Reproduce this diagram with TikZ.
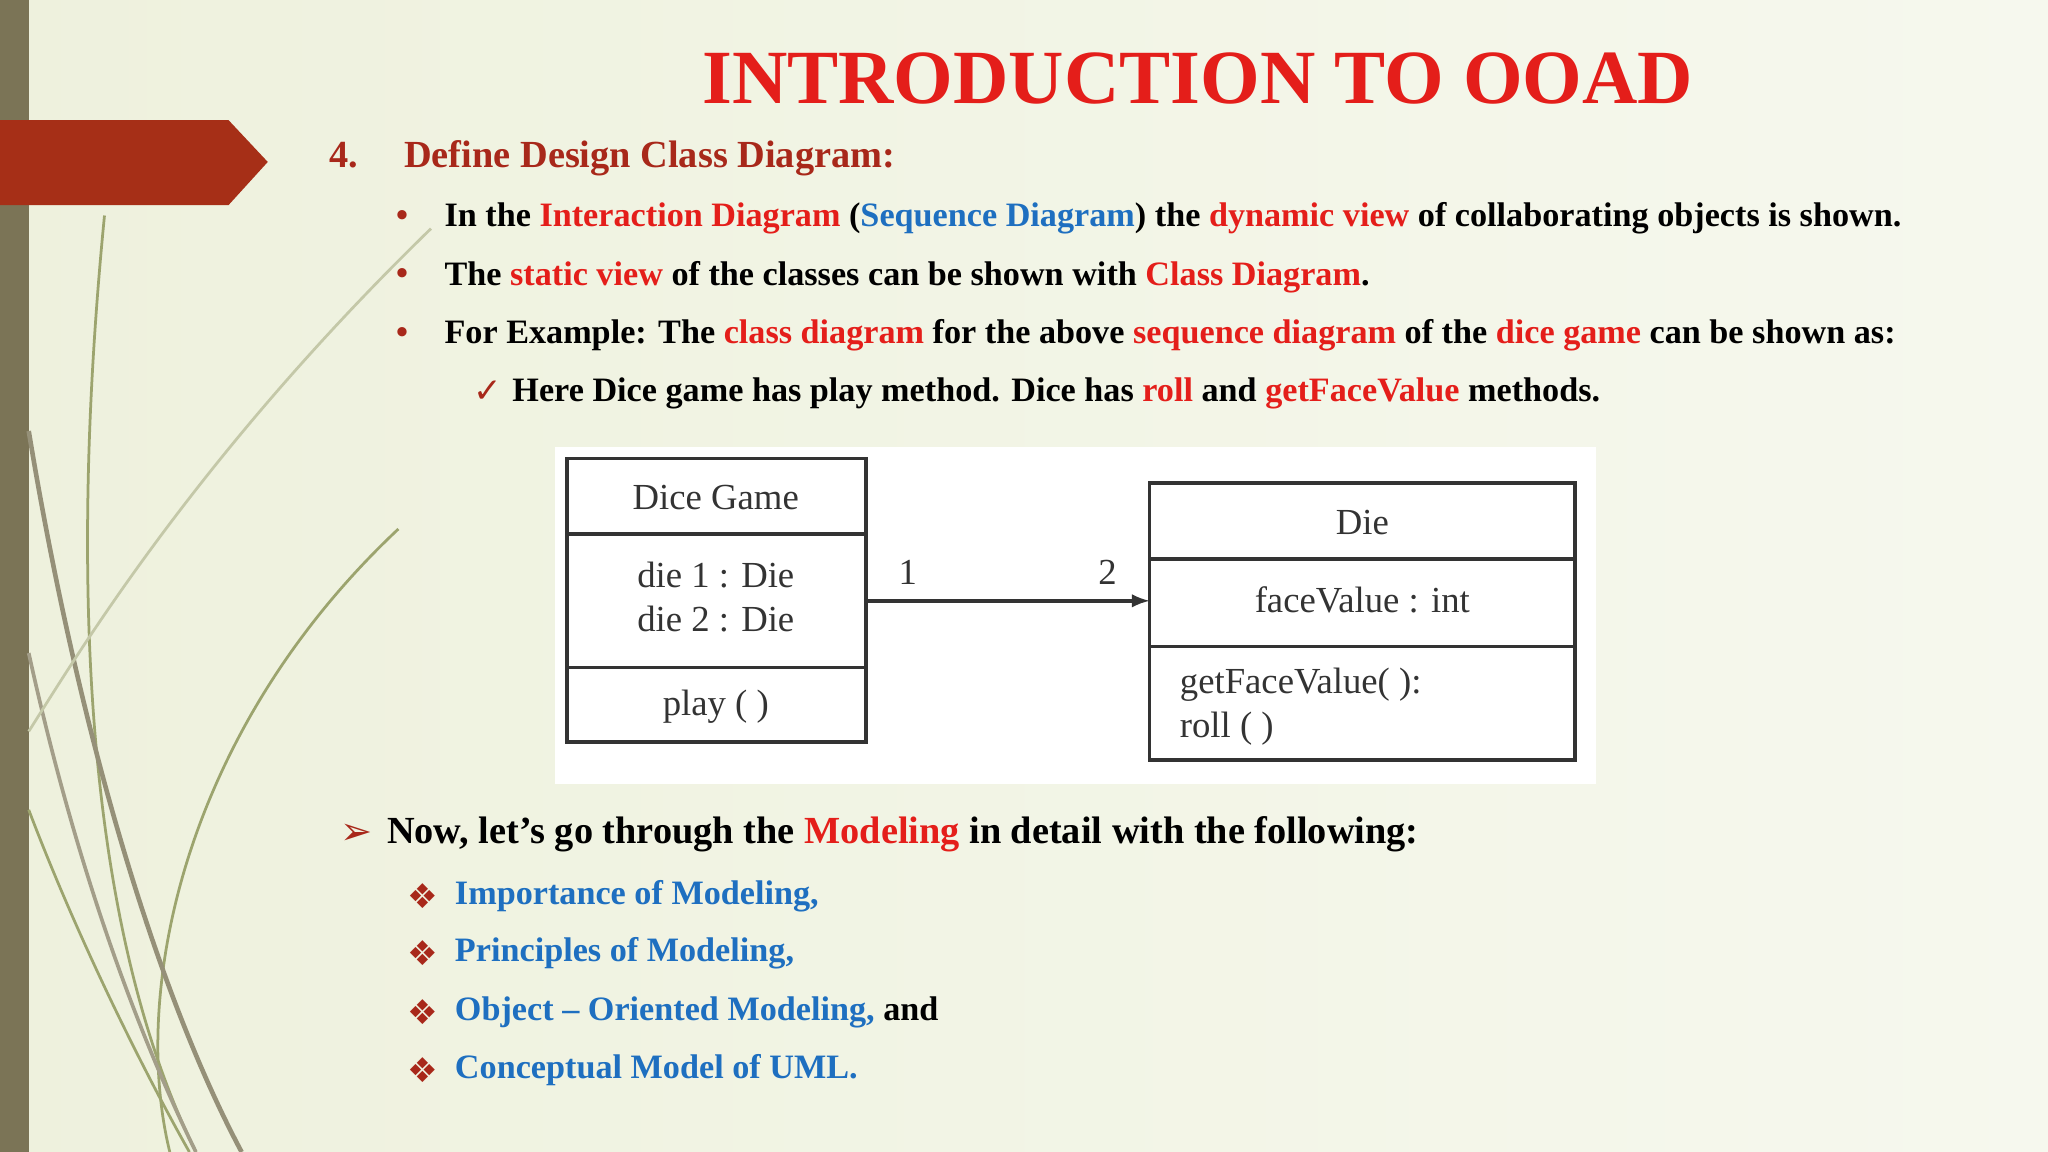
\documentclass[tikz,border=0pt]{standalone}
\usepackage{fontspec}
\setmainfont{Liberation Serif}
\newfontfamily\djvfont{DejaVu Sans}
\definecolor{rd}{HTML}{E41E1A}
\definecolor{bl}{HTML}{1E6FC0}
\definecolor{hd}{HTML}{A8281A}
\definecolor{bgl}{HTML}{EEF1DD}
\definecolor{bgr}{HTML}{F6F8EE}
\definecolor{ol}{HTML}{7B7456}
\definecolor{arr}{HTML}{A62F17}
\definecolor{ln}{HTML}{9CA46E}
\definecolor{dg}{HTML}{333333}
\tikzset{
 txt/.style={anchor=west,inner sep=0,font=\bfseries\fontsize{14.9}{16}\selectfont},
 big/.style={anchor=west,inner sep=0,font=\bfseries\fontsize{16.7}{18}\selectfont},
 cls/.style={draw=dg,line width=1.6pt},
 ct/.style={inner sep=0,text=dg,font=\fontsize{16}{19}\selectfont},
}
\begin{document}
\begin{tikzpicture}[x=0.02cm,y=-0.02cm]
\useasboundingbox (0,0) rectangle (1568,882);
\shade[left color=bgl,right color=bgr] (0,0) rectangle (1568,882);
\fill[ol] (0,0) rectangle (22,882);
% decorative curves
\begin{scope}[ln,line width=1.2pt]
\draw (80,165) .. controls (55,420) and (60,700) .. (150,882);
\draw (305,405) .. controls (140,560) and (100,760) .. (130,882);
\draw[line width=2pt,ol!80] (22,330) .. controls (60,560) and (120,760) .. (185,882);
\draw[line width=1.6pt,ol!70] (22,500) .. controls (55,650) and (100,780) .. (150,882);
\draw (22,620) .. controls (60,720) and (110,820) .. (145,882);
\draw[ln!60] (330,175) .. controls (150,350) and (60,500) .. (22,560);
\end{scope}
\fill[arr] (0,92) -- (175,92) -- (205,124) -- (175,157) -- (0,157) -- cycle;
\node[anchor=center,inner sep=0,text=rd,font=\bfseries\fontsize{33.4}{35}\selectfont] (title) at (917,60) {INTRODUCTION TO OOAD};
\node[big,text=hd] (h) at (252,121) {4.\hspace{1.2em}Define Design Class Diagram:};
\node[txt,text=hd] (b1) at (303,167) {\textbullet};
\node[txt] (t1) at (340,167) {In the \textcolor{rd}{Interaction Diagram} (\textcolor{bl}{Sequence Diagram}) the \textcolor{rd}{dynamic view} of collaborating objects is shown.};
\node[txt,text=hd] (b2) at (303,212) {\textbullet};
\node[txt] (t2) at (340,212) {The \textcolor{rd}{static view} of the classes can be shown with \textcolor{rd}{Class Diagram}.};
\node[txt,text=hd] (b3) at (303,257) {\textbullet};
\node[txt] (t3) at (340,257) {For Example: The \textcolor{rd}{class diagram} for the above \textcolor{rd}{sequence diagram} of the \textcolor{rd}{dice game} can be shown as:};
\node[txt,text=hd] (c1) at (362,300) {\djvfont\mdseries ✓};
\node[txt] (t4) at (392,301) {Here Dice game has play method. Dice has \textcolor{rd}{roll} and \textcolor{rd}{getFaceValue} methods.};
% diagram
\fill[white] (425,342) rectangle (1222,600);
\draw[cls] (434,351) rectangle (663,568);
\draw[cls] (434,409) -- (663,409); \draw[cls] (434,511) -- (663,511);
\node[ct] (dg) at (548,381) {Dice Game};
\node[ct,align=center] (da) at (548,457) {die 1 : Die\\die 2 : Die};
\node[ct] (dp) at (548,541) {play ( )};
\draw[cls] (880,370) rectangle (1206,582);
\draw[cls] (880,428) -- (1206,428); \draw[cls] (880,495) -- (1206,495);
\node[ct] (die) at (1043,400) {Die};
\node[ct] (fv) at (1043,459) {faceValue : int};
\node[ct,align=left,anchor=west] (ops) at (903,541) {getFaceValue( ):\\roll ( )};
\coordinate (s) at (663,460); \coordinate (e) at (880,460);
\draw[dg,line width=1.6pt,-latex] (s) -- (e);
\node[ct] (m1) at (695,438) {1};
\node[ct] (m2) at (848,438) {2};
% bottom
\node[big,text=hd] (a0) at (260,639) {\djvfont\mdseries ➢};
\node[big] (n0) at (296,639) {Now, let’s go through the \textcolor{rd}{Modeling} in detail with the following:};
\foreach \y/\t [count=\i] in {686/{\textcolor{bl}{Importance of Modeling,}},730/{\textcolor{bl}{Principles of Modeling,}},775/{\textcolor{bl}{Object – Oriented Modeling,} and},819/{\textcolor{bl}{Conceptual Model of UML.}}}{
 \node[txt,text=hd] (d\i) at (312,\y) {\djvfont\mdseries ❖};
 \node[txt] (l\i) at (348,\y) {\t};
}
\end{tikzpicture}
\end{document}
